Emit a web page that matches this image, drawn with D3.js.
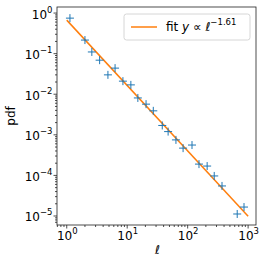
<!DOCTYPE html>
<html>
<head>
<meta charset="utf-8">
<script src="https://cdn.jsdelivr.net/npm/d3@7"></script>
<style>
  body { margin: 0; background: #fff; }
  svg { display: block; font-family: "DejaVu Sans", sans-serif; }
</style>
</head>
<body>
<div id="chart"></div>
<script>
// data
const ell = [1.13, 2.0, 2.6, 3.5, 4.8, 6.3, 8.5, 11.5, 15, 20.5, 27, 38, 47.5, 64, 84, 118, 154, 210, 275, 370, 660, 855]
const pdf = [0.75, 0.216, 0.11, 0.069, 0.03, 0.044, 0.021, 0.017, 0.0081, 0.0057, 0.0039, 0.0017,
  0.0012, 0.00075, 0.00047, 0.00056, 0.00019, 0.00017, 0.000097, 0.000055, 0.0000112, 0.0000166]
const fitRange = [1, 1000]
const fitAmp = 0.67
const fitExp = 1.61
const xTickExp = [0, 1, 2, 3]
const yTickExp = [0, -1, -2, -3, -4, -5]

const W = 266, H = 266
const m = { left: 57, right: 10, top: 7, bottom: 41 }

const svg = d3.select('#chart').append('svg').attr('width', W).attr('height', H)

const x = d3.scaleLog().domain([0.69, 1350]).range([m.left, W - m.right])
const y = d3.scaleLog().domain([6.0e-6, 1.41]).range([H - m.bottom, m.top])

const x0 = m.left, x1 = W - m.right, y0 = m.top, y1 = H - m.bottom

// minor + major ticks
const minorX = [], minorY = []
for (let e = -1; e <= 3; e++) for (let k = 2; k <= 9; k++) {
  const v = k * Math.pow(10, e)
  if (v > x.domain()[0] && v < x.domain()[1]) minorX.push(v)
}
for (let e = -6; e <= 0; e++) for (let k = 2; k <= 9; k++) {
  const v = k * Math.pow(10, e)
  if (v > y.domain()[0] && v < y.domain()[1]) minorY.push(v)
}

const ticks = svg.append('g').attr('stroke', '#222').attr('stroke-width', 0.8)
minorX.forEach(v => ticks.append('line').attr('x1', x(v)).attr('x2', x(v)).attr('y1', y1).attr('y2', y1 + 2))
minorY.forEach(v => ticks.append('line').attr('y1', y(v)).attr('y2', y(v)).attr('x1', x0).attr('x2', x0 - 2))
xTickExp.forEach(e => ticks.append('line').attr('x1', x(10 ** e)).attr('x2', x(10 ** e)).attr('y1', y1).attr('y2', y1 + 3.5))
yTickExp.forEach(e => ticks.append('line').attr('y1', y(10 ** e)).attr('y2', y(10 ** e)).attr('x1', x0).attr('x2', x0 - 3.5))

// tick labels with superscripts
const supLabel = (g, e) => {
  g.append('tspan').text('10')
  g.append('tspan').attr('font-size', 8.5).attr('dy', -6).text(e < 0 ? '\u2212' + (-e) : e)
}
xTickExp.forEach(e => {
  const t = svg.append('text').attr('x', x(10 ** e) + 0.5).attr('y', y1 + 15)
    .attr('text-anchor', 'middle').attr('font-size', 12).attr('fill', '#000')
  supLabel(t, e)
})
yTickExp.forEach(e => {
  const t = svg.append('text').attr('x', x0 - 4.5).attr('y', y(10 ** e) + 5.5)
    .attr('text-anchor', 'end').attr('font-size', 12).attr('fill', '#000')
  supLabel(t, e)
})

// axis labels
svg.append('text').attr('transform', `translate(15,${(y0 + y1) / 2}) rotate(-90)`)
  .attr('text-anchor', 'middle').attr('font-size', 12).text('pdf')
svg.append('text').attr('x', (x0 + x1) / 2 + 1).attr('y', 254)
  .attr('text-anchor', 'middle').attr('font-size', 12).attr('font-style', 'italic').text('\u2113')

// clip
svg.append('clipPath').attr('id', 'clip').append('rect')
  .attr('x', x0).attr('y', y0).attr('width', x1 - x0).attr('height', y1 - y0)
const plot = svg.append('g').attr('clip-path', 'url(#clip)')

// fit line
const line = d3.line().x(d => x(d)).y(d => y(fitAmp * Math.pow(d, -fitExp)))
plot.append('path').attr('d', line(fitRange)).attr('fill', 'none')
  .attr('stroke', '#ff7f0e').attr('stroke-width', 1.5)

// + markers
const s = 4
plot.append('g').selectAll('path').data(d3.zip(ell, pdf)).enter().append('path')
  .attr('d', ([a, b]) => `M${x(a) - s},${y(b)}H${x(a) + s}M${x(a)},${y(b) - s}V${y(b) + s}`)
  .attr('stroke', '#1f77b4').attr('stroke-width', 1).attr('fill', 'none')

// frame
svg.append('rect').attr('x', x0).attr('y', y0).attr('width', x1 - x0).attr('height', y1 - y0)
  .attr('fill', 'none').attr('stroke', '#222').attr('stroke-width', 0.8)

// legend
const lg = svg.append('g')
lg.append('rect').attr('x', 124).attr('y', 14).attr('width', 126).attr('height', 26).attr('rx', 2.5)
  .attr('fill', 'rgba(255,255,255,0.8)').attr('stroke', '#ccc').attr('stroke-width', 0.8)
lg.append('line').attr('x1', 131).attr('x2', 157).attr('y1', 27).attr('y2', 27)
  .attr('stroke', '#ff7f0e').attr('stroke-width', 1.5)
const lt = lg.append('text').attr('x', 166).attr('y', 31).attr('font-size', 12)
lt.append('tspan').text('fit ')
lt.append('tspan').attr('font-style', 'italic').text('y')
lt.append('tspan').text(' \u221d ')
lt.append('tspan').attr('font-style', 'italic').text('\u2113')
lt.append('tspan').attr('font-size', 8.5).attr('dy', -6).text('\u22121.61')
</script>
</body>
</html>
